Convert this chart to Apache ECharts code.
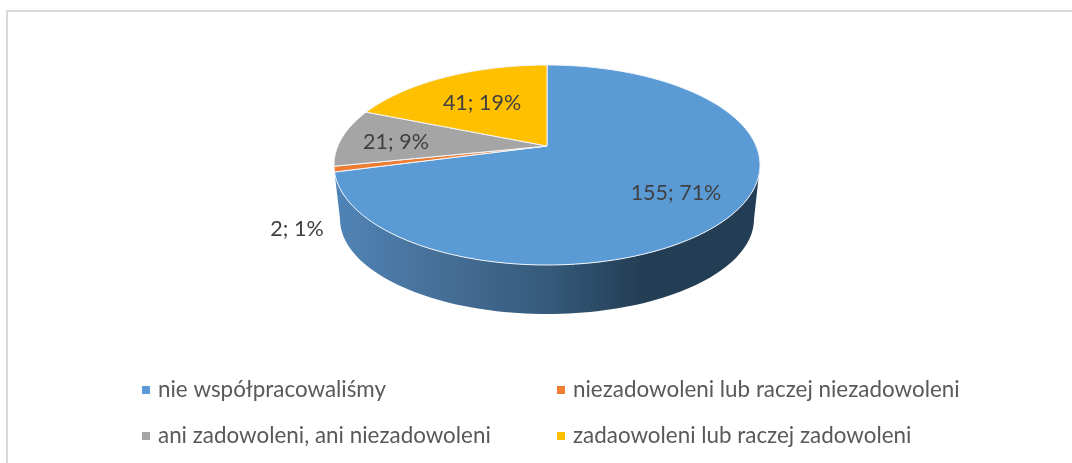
<!DOCTYPE html>
<html><head><meta charset="utf-8">
<style>html,body{margin:0;padding:0;background:#fff}#c{width:1072px;height:463px}</style>
<script src="https://cdn.jsdelivr.net/npm/echarts@6/dist/echarts.min.js"></script>
</head><body><div id="c"></div>
<script>
const categories = ['nie współpracowaliśmy','niezadowoleni lub raczej niezadowoleni','ani zadowoleni, ani niezadowoleni','zadaowoleni lub raczej zadowoleni'];
const counts = [155, 2, 21, 41];
const percents = [71, 1, 9, 19];
const colors = ['#5B9BD5','#ED7D31','#A5A5A5','#FFC000'];

const FONT = 'Lato, "Open Sans", sans-serif';
const upper = {cx:547, cy:165, rx:213, ry:100};
const low = {cx:547, cy:219, rx:207, ry:95};
const apex = {x:547, y:146};
const tilt = 0.45;
const labelAt = [[676,193],[297,229],[396,142],[482,103]];
const legendAt = [[142,379],[557,379],[142,425],[557,425]];
const total = counts.reduce((a,b)=>a+b,0);

function rim(deg){
  const a = deg*Math.PI/180, dx = Math.sin(a), dy = -tilt*Math.cos(a);
  const ox = apex.x-upper.cx, oy = apex.y-upper.cy;
  const A = dx*dx/(upper.rx*upper.rx)+dy*dy/(upper.ry*upper.ry);
  const B = 2*(ox*dx/(upper.rx*upper.rx)+oy*dy/(upper.ry*upper.ry));
  const C = ox*ox/(upper.rx*upper.rx)+oy*oy/(upper.ry*upper.ry)-1;
  const t = (-B+Math.sqrt(B*B-4*A*C))/(2*A);
  return [apex.x+t*dx, apex.y+t*dy];
}
function span(i){
  const before = counts.slice(0,i).reduce((a,b)=>a+b,0);
  return [before/total*360, (before+counts[i])/total*360];
}
function sliceSeries(i){
  return {
    type:'custom', name:categories[i], coordinateSystem:'none', z:3,
    itemStyle:{color:colors[i]},
    data:[[counts[i]]],
    renderItem(params, api){
      const [s,e] = span(i);
      const pts = [[apex.x,apex.y]];
      const n = Math.max(2,Math.ceil(e-s));
      for(let k=0;k<=n;k++) pts.push(rim(s+(e-s)*k/n));
      return {type:'group',children:[
        {type:'polygon',shape:{points:pts},style:{fill:colors[i],stroke:'#f2f6fb',lineWidth:1,lineJoin:'round'}},
        {type:'text',z2:10,style:{x:labelAt[i][0],y:labelAt[i][1],text:api.value(0)+'; '+percents[i]+'%',
          fill:'#404040',font:'21.5px '+FONT,textAlign:'center',textVerticalAlign:'middle'}}
      ]};
    }
  };
}
const wall = {
  type:'custom', name:'wall', coordinateSystem:'none', z:2, silent:true,
  data:[[counts[0]]],
  renderItem(){
    const left = rim(span(0)[1]);
    const startPhi = Math.acos(Math.max(-1,Math.min(1,(left[0]-upper.cx)/upper.rx)));
    const pts = [];
    for(let k=0;k<=90;k++){const p=startPhi*(1-k/90);pts.push([upper.cx+upper.rx*Math.cos(p),upper.cy+upper.ry*Math.sin(p)]);}
    for(let k=0;k<=90;k++){const p=Math.PI*k/90;pts.push([low.cx+low.rx*Math.cos(p),low.cy+low.ry*Math.sin(p)]);}
    return {type:'polygon',shape:{points:pts},style:{
      fill:new echarts.graphic.LinearGradient(0,0,1,0,[
        {offset:0,color:'#5084B7'},{offset:0.25,color:'#466F97'},{offset:0.5,color:'#355A7B'},{offset:0.72,color:'#243E55'},{offset:1,color:'#233D54'}
      ])}};
  }
};
const chart = echarts.init(document.getElementById('c'));
chart.setOption({
  animation:false,
  backgroundColor:'#fff',
  graphic:[{type:'rect',silent:true,z:-1,shape:{x:7,y:11,width:1300,height:800},style:{fill:'#fff',stroke:'#d9d9d9',lineWidth:2}}],
  legend:categories.map((c,i)=>({
    data:[c],left:legendAt[i][0],top:legendAt[i][1],padding:0,
    itemWidth:8,itemHeight:8,icon:'rect',selectedMode:false,
    itemStyle:{color:colors[i]},
    textStyle:{color:'#595959',fontSize:22.4,fontFamily:FONT,padding:[0,0,0,3]}
  })),
  series:[wall].concat(categories.map((c,i)=>sliceSeries(i)))
});
</script></body></html>
